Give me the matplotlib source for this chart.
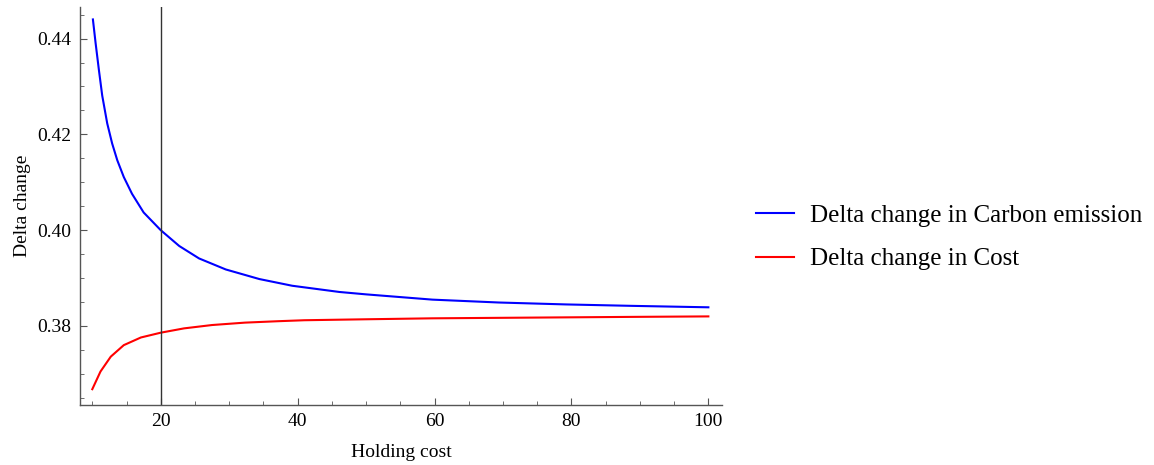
import numpy as np
import matplotlib.pyplot as plt
from matplotlib.ticker import MultipleLocator

# values
holding = [10.09, 10.48, 10.96, 11.45, 12.18, 12.9, 13.65, 14.6, 15.8, 17.5, 20, 22.7, 25.6, 29.5,
           34.4, 39.2, 46.1, 50, 59.7, 69.4, 79.2, 88.9, 100]
carbon = [0.4440, 0.4391, 0.4335, 0.4281, 0.4223, 0.4181, 0.4146, 0.4111, 0.4076, 0.4037, 0.4000, 0.3967,
          0.3941, 0.3918, 0.3898, 0.3884, 0.3871, 0.3866, 0.3855, 0.3849, 0.3845, 0.3842, 0.3839]
holding_c = [10.0, 11.2, 12.7, 14.6, 17.1, 20, 23.4, 27.5, 32.3, 37.2, 41, 50, 59.7, 69.4, 79.2, 88.9, 100]
cost = [0.3668, 0.3705, 0.3736, 0.3760, 0.3776, 0.3786, 0.3795, 0.3802, 0.3807, 0.3810, 0.3812, 0.3814,
        0.3816, 0.3817, 0.3818, 0.3819, 0.3820]
marker_x = 20

plt.rcParams['font.family'] = ['Liberation Serif', 'DejaVu Serif']

fig = plt.figure(figsize=(11.54, 4.65), dpi=100)
ax = fig.add_axes([0.0693, 0.129, 0.5564, 0.856])

ln1, = ax.plot(holding, carbon, color='#0000ff', lw=1.5, label='Delta change in Carbon emission')
ln2, = ax.plot(holding_c, cost, color='#ff0000', lw=1.5, label='Delta change in Cost')
ax.axvline(marker_x, color='#333333', lw=1.0)

ax.set_xlim(8.2, 102)
ax.set_ylim(0.3635, 0.4466)
ax.xaxis.set_major_locator(MultipleLocator(20))
ax.xaxis.set_minor_locator(MultipleLocator(5))
ax.yaxis.set_major_locator(MultipleLocator(0.02))
ax.yaxis.set_minor_locator(MultipleLocator(0.005))
ax.yaxis.set_major_formatter(lambda v, p: '%.2f' % v)

for s in ['top', 'right']:
    ax.spines[s].set_visible(False)
for s in ['left', 'bottom']:
    ax.spines[s].set_color('#555555')
    ax.spines[s].set_linewidth(1.0)
ax.tick_params(which='major', direction='in', length=5, color='#555555', labelsize=14, pad=6)
ax.tick_params(which='minor', direction='in', length=3, color='#555555')

ax.set_xlabel('Holding cost', fontsize=14, labelpad=10)
ax.set_ylabel('Delta change', fontsize=14, labelpad=5)

fig.legend(handles=[ln1, ln2], loc='center left', bbox_to_anchor=(0.636, 0.49), frameon=False,
           fontsize=18, handlelength=1.5, handletextpad=0.64, labelspacing=0.85)

fig.savefig('out.png', dpi=100)
